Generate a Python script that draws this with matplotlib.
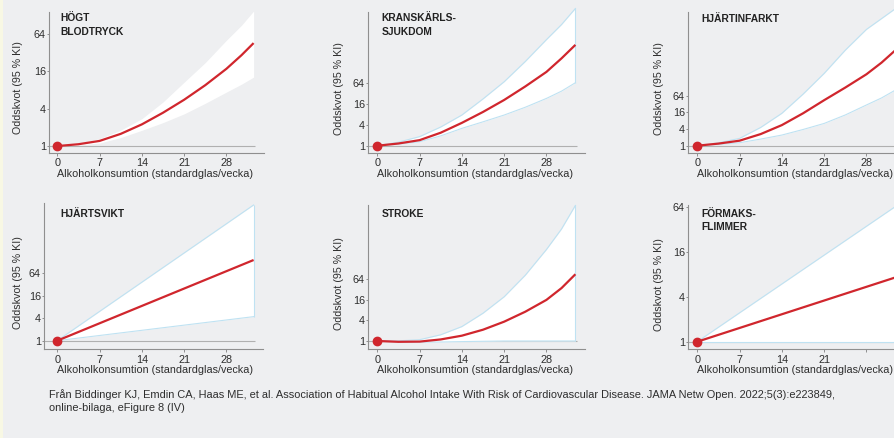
import matplotlib
matplotlib.use("Agg")
import matplotlib.pyplot as plt
from matplotlib.patches import Rectangle

plt.rcParams['font.family'] = ['Liberation Sans', 'DejaVu Sans']

# ---------------- data (odds ratios) ----------------
titles = ["HÖGT\nBLODTRYCK", "KRANSKÄRLS-\nSJUKDOM", "HJÄRTINFARKT",
          "HJÄRTSVIKT", "STROKE", "FÖRMAKS-\nFLIMMER"]

hbp_x = [0, 3.5, 7, 10.5, 14, 17.5, 21, 24.5, 28, 30.5, 32.5]
hbp_or = [1, 1.07, 1.21, 1.57, 2.23, 3.43, 5.54, 9.5, 17.4, 28.8, 45]
hbp_lo = [1, 1.04, 1.12, 1.37, 1.79, 2.38, 3.29, 4.86, 7.36, 9.85, 12.8]
hbp_hi = [1, 1.11, 1.31, 1.80, 2.75, 5.1, 10.6, 21.9, 50, 87, 147]

cad_x = [0, 3.5, 7, 10.5, 14, 17.5, 21, 24.5, 28, 30.5, 32.8]
cad_or = [1, 1.16, 1.45, 2.38, 4.59, 9.5, 21.1, 52, 137, 338, 832]
cad_lo = [1, 1.11, 1.30, 1.93, 3.18, 4.92, 7.73, 13.0, 23.4, 38, 66.7]
cad_hi = [1, 1.27, 1.83, 3.48, 7.73, 22.6, 71, 274, 1176, 3214, 9410]

mi_x = [0, 3.5, 7, 10.5, 14, 17.5, 21, 24.5, 28, 30.5, 32.8]
mi_or = [1, 1.19, 1.52, 2.64, 5.58, 14.9, 44.6, 128, 388, 1024, 2896]
mi_lo = [1, 1.11, 1.28, 1.74, 2.43, 3.86, 6.41, 13.0, 29.9, 53.8, 104]
mi_hi = [1, 1.27, 1.84, 4.59, 14.9, 73.5, 416, 2896, 16384, 40342, 92682]

hf_x = [0, 32.5]
hf_or = [1, 145]
hf_lo = [1, 4.4]
hf_hi = [1, 4330]

st_x = [0, 3.5, 7, 10.5, 14, 17.5, 21, 24.5, 28, 30.5, 32.8]
st_or = [1, 0.946, 0.959, 1.11, 1.43, 2.14, 3.68, 7.21, 16, 35.5, 90.5]
st_lo = [1, 0.933, 0.92, 0.933, 0.959, 0.98, 1, 1, 1, 1, 1]
st_hi = [1, 1.01, 1.09, 1.52, 2.64, 6.5, 19.7, 84.4, 478, 1911, 9410]

af_x = [0, 32.8]
af_or = [1, 7.3]
af_lo = [1, 1]
af_hi = [1, 65.4]

x_ticks = [0, 7, 14, 21, 28]
y_ticks = [1, 4, 16, 64]
y_ticklabels = ["1", "4", "16", "64"]
xlabel = "Alkoholkonsumtion (standardglas/vecka)"
ylabel = "Oddskvot (95 % KI)"
caption = ["Från Biddinger KJ, Emdin CA, Haas ME, et al. Association of Habitual Alcohol Intake With Risk of Cardiovascular Disease. JAMA Netw Open. 2022;5(3):e223849,",
           "online-bilaga, eFigure 8 (IV)"]

series = [(hbp_x, hbp_or, hbp_lo, hbp_hi), (cad_x, cad_or, cad_lo, cad_hi),
          (mi_x, mi_or, mi_lo, mi_hi), (hf_x, hf_or, hf_lo, hf_hi),
          (st_x, st_or, st_lo, st_hi), (af_x, af_or, af_lo, af_hi)]

# ---------------- layout (pixels) ----------------
W, H = 895, 438
PXU = 6.04  # pixels per x unit
BG = '#eeeff1'
RED = '#d0262d'
BLUE = '#bfe2f2'
TXT = '#2e2e2e'
SP = '#8f8f8f'

def fx(px):
    return px / W

def fy(py):
    return 1 - py / H

# X0, X1, Y0, Y1, x0px, ylo(log2), yhi(log2)
layout = [
    (49.3, 264, 12, 153, 57.3, -0.37, 7.15),
    (368.3, 585, 12, 153, 377.3, -0.70, 12.86),
    (688.3, 905, 12, 153, 697.3, -0.88, 16.1),
    (44.3, 263, 203.3, 349.3, 57.3, -0.77, 12.23),
    (368.3, 585, 205, 349.3, 377.3, -0.81, 13.24),
    (688.3, 905, 205, 349.3, 697.3, -0.34, 6.1),
]
title_pos = [
    (60, [20.7, 35.0]),
    (381.7, [20.7, 35.3]),
    (701.7, [21.7]),
    (60.7, [217.3]),
    (381.7, [217.3]),
    (701.7, [217.3, 230.0]),
]
ylab_pos = [(18, 88), (339, 89), (659, 89), (18, 283), (339, 284), (659, 285)]
xlab_y = [174, 174, 174, 370, 370, 370]
band_edges = [False, True, True, True, True, True]
xtick_labels = [["0", "7", "14", "21", "28"]] * 5 + [["0", "7", "14", "21", ""]]

fig = plt.figure(figsize=(W / 100, H / 100), dpi=100)
fig.patch.set_facecolor(BG)
fig.patches.append(Rectangle((0, 0), 3 / W, 1, transform=fig.transFigure,
                             facecolor='#f8f8e4', edgecolor='none', zorder=0))

for i, ((X0, X1, Y0, Y1, x0px, ylo, yhi), (xs, ors, los, his)) in enumerate(zip(layout, series)):
    ax = fig.add_axes([fx(X0), fy(Y1), (X1 - X0) / W, (Y1 - Y0) / H])
    ax.set_facecolor('none')
    ax.set_yscale('log', base=2)
    ax.set_xlim((X0 - x0px) / PXU, (X1 - x0px) / PXU)
    ax.set_ylim(2 ** ylo, 2 ** yhi)
    for s in ['top', 'right']:
        ax.spines[s].set_visible(False)
    for s in ['left', 'bottom']:
        ax.spines[s].set_color(SP)
        ax.spines[s].set_linewidth(0.8)
    xend = max(xs)
    ax.hlines(1, ax.get_xlim()[0], xend + 0.3, color='#b0b0b0', lw=0.8, zorder=1)
    ax.fill_between(xs, los, his, color='white', lw=0, zorder=2, clip_on=False)
    if band_edges[i]:
        ax.plot(xs, his, color=BLUE, lw=0.8, zorder=3, clip_on=False)
        ax.plot(xs, los, color=BLUE, lw=0.8, zorder=3, clip_on=False)
        ax.vlines(xend, los[-1], his[-1], color=BLUE, lw=0.8, zorder=3, clip_on=False)
    ax.plot(xs, ors, color=RED, lw=1.6, zorder=4, clip_on=False,
            solid_capstyle='butt', solid_joinstyle='round')
    ax.plot([xs[0]], [ors[0]], 'o', color=RED, ms=6, zorder=5, clip_on=False)

    ax.set_xticks(x_ticks)
    ax.set_xticklabels(xtick_labels[i])
    ax.set_yticks(y_ticks)
    ax.set_yticklabels(y_ticklabels)
    ax.minorticks_off()
    ax.tick_params(axis='x', direction='out', length=2.3, width=0.7, color=SP,
                   pad=1.5, labelsize=7.8, labelcolor=TXT)
    ax.tick_params(axis='y', direction='out', length=1.8, width=0.7, color=SP,
                   pad=0.6, labelsize=7.8, labelcolor=TXT)

    fig.text(fx(x0px), fy(xlab_y[i]), xlabel, ha='left', va='center',
             fontsize=7.75, color=TXT)
    yx, yy = ylab_pos[i]
    fig.text(fx(yx), fy(yy), ylabel, ha='center', va='center', rotation=90,
             fontsize=7.7, color=TXT)
    tx, bls = title_pos[i]
    for line, bl in zip(titles[i].split("\n"), bls):
        fig.text(fx(tx), fy(bl), line, ha='left', va='baseline', fontsize=7.4,
                 fontweight='bold', color='#222222')

fig.text(fx(49), fy(395), caption[0], ha='left', va='center', fontsize=7.95, color=TXT)
fig.text(fx(49), fy(408), caption[1], ha='left', va='center', fontsize=7.95, color=TXT)

fig.savefig("out.png", dpi=100, facecolor=fig.get_facecolor())
